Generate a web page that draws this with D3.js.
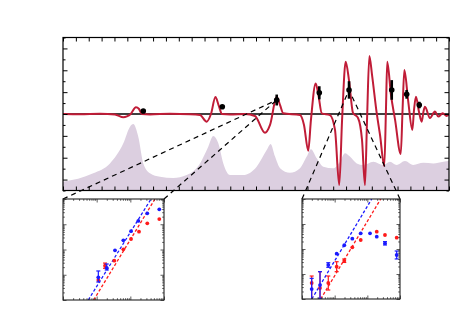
<!DOCTYPE html>
<html>
<head>
<meta charset="utf-8">
<script src="https://cdn.jsdelivr.net/npm/d3@7"></script>
<style>
body { margin: 0; background: #fff; }
svg { display: block; }
</style>
</head>
<body>
<svg id="chart" width="457" height="334"></svg>
<script>
// --- main panel data (x in arbitrary units 0..30, y in signal units) ---
const signalCurve = [
  [0,0],[1.32,-0.01],[2.88,0.01],[4.04,-0.02],[4.69,-0.15],[4.97,-0.11],[5.26,0],[5.67,0.31],[5.91,0.23],[6.12,0],
  [6.76,-0.02],[8.32,0.01],[9.87,-0.01],[10.65,-0.05],[11.17,-0.35],[11.5,0],[11.85,0.78],[12.09,0.41],[12.36,0],
  [12.98,-0.02],[14.15,0],[14.92,-0.09],[15.7,-0.86],[16.09,-0.5],[16.61,0.79],[16.87,0.41],[17.12,0.03],
  [18.42,-0.05],[18.73,-0.5],[19.06,-1.68],[19.27,-0.27],[19.64,1.4],[19.85,0.87],[20.11,0.03],
  [20.75,-0.05],[21.14,-0.73],[21.47,-3.25],[21.69,-0.27],[21.97,2.39],[22.23,1.53],[22.54,0.05],
  [22.93,-0.18],[23.24,-1.19],[23.47,-3.25],[23.63,-0.27],[23.81,2.65],[24.02,1.78],[24.38,0.05],
  [24.64,-0.96],[24.97,-2.38],[25.1,0.18],[25.2,2.39],[25.49,0.87],[25.81,-0.27],[26.25,-1.83],
  [26.39,0.18],[26.53,2.01],[26.82,0.64],[27.15,-0.73],[27.28,0.18],[27.43,0.79],[27.67,0.09],
  [27.88,-0.35],[28.01,0.09],[28.13,0.33],[28.52,-0.18],[28.91,0.11],[29.17,-0.12],[29.51,0.03],
  [29.82,-0.09],[30,0]
];

const bandEdge = [
  [0,-3.1],[2.35,-2.71],[3.65,-2.26],[4.69,-1.34],[5.21,-0.58],[5.46,-0.46],[5.85,-1.04],[6.24,-2.26],
  [6.76,-2.71],[7.54,-2.87],[8.57,-2.93],[9.61,-2.79],[10.65,-2.26],[11.29,-1.5],[11.68,-1.01],[12.07,-1.34],
  [12.46,-2.26],[12.98,-2.79],[14.01,-2.79],[15.05,-2.41],[15.83,-1.65],[16.14,-1.37],[16.48,-1.95],
  [16.87,-2.48],[17.64,-2.69],[18.42,-2.48],[18.94,-1.95],[19.27,-1.61],[19.72,-2.03],[20.23,-2.41],
  [21.01,-2.48],[21.53,-2.18],[21.92,-1.8],[22.3,-1.95],[22.83,-2.26],[23.34,-2.33],[24.12,-2.18],
  [24.89,-2.33],[25.41,-2.18],[25.93,-2.33],[26.58,-2.15],[27.22,-2.33],[28,-2.23],[28.78,-2.26],
  [29.56,-2.18],[30,-2.15]
];

// measured points: [x, y, error]
const measured = [
  [6.24,0.14,0.05],[12.38,0.33,0.05],[16.61,0.64,0.25],[19.92,0.97,0.3],
  [22.23,1.1,0.4],[25.55,1.1,0.45],[26.71,0.9,0.2],[27.69,0.41,0.15]
];

// --- inset data: [x, y, low, high] ---
const leftBlue = [
  [725,0.39],[319,0.27],[173,0.135],[105,0.053],[62,0.023],[35,0.0093],
  [19.9,0.00185,0.00154,0.00267],[11.2,0.00079,0.000516,0.00141]
];
const leftRed = [
  [725,0.161],[319,0.109],[181,0.0507],[105,0.026],[62,0.0102],[33.4,0.0036],
  [17.7,0.00228,0.0018,0.0029],[11.2,0.00062]
];
const leftBlueFit = [[5.64,1e-4],[411,1]];
const leftRedFit = [[8.17,1e-4],[540,1]];

const rightBlue = [
  [1.98,0.00025,0.00005,0.00067],[3.56,0.00036,0.000107,0.00124],[6.38,0.00229,0.00185,0.00283],
  [11.5,0.00649],[19.7,0.0141],[34.7,0.0258],[62.7,0.0425],[121,0.0425],[194,0.031],
  [347,0.0169,0.0145,0.0197],[792,0.00575,0.004,0.0083]
];
const rightRed = [
  [1.98,0.000437,0.00005,0.00083],[3.56,0.000275,0.00005,0.00124],[6.38,0.000437,0.000229,0.00083],
  [11.5,0.00196,0.00124,0.0031],[19.7,0.0034,0.0029,0.004],[34.7,0.0117],[62.7,0.0229],
  [194,0.0492],[347,0.0363],[792,0.0283]
];
const rightBlueFit = [[2,1e-4],[136,1]];
const rightRedFit = [[3.74,1e-4],[257,1]];

const svg = d3.select("#chart");

// main panel
const main = { left: 63, top: 37.5, width: 386, height: 153 };
const x = d3.scaleLinear().domain([0, 30]).range([main.left, main.left + main.width]);
const y = d3.scaleLinear().domain([-3.5, 3.5]).range([main.top + main.height, main.top]);

svg.append("clipPath").attr("id", "mainClip")
  .append("rect").attr("x", main.left).attr("y", main.top).attr("width", main.width).attr("height", main.height);

const g = svg.append("g").attr("clip-path", "url(#mainClip)");

g.append("path")
  .datum(bandEdge)
  .attr("fill", "#dccfe0")
  .attr("d", d3.area().x(d => x(d[0])).y0(y(-3.5)).y1(d => y(d[1])).curve(d3.curveMonotoneX));

g.append("line")
  .attr("x1", x(0)).attr("x2", x(30)).attr("y1", y(0)).attr("y2", y(0))
  .attr("stroke", "#000").attr("stroke-width", 1.3);

g.append("path")
  .datum(signalCurve)
  .attr("fill", "none")
  .attr("stroke", "#c01c37")
  .attr("stroke-width", 2)
  .attr("d", d3.line().x(d => x(d[0])).y(d => y(d[1])).curve(d3.curveMonotoneX));

// insets
const insets = [
  { left: 63, top: 199, width: 101, height: 101, blue: leftBlue, red: leftRed, blueFit: leftBlueFit, redFit: leftRedFit, target: measured[2], id: "inL" },
  { left: 302, top: 199, width: 98, height: 100, blue: rightBlue, red: rightRed, blueFit: rightBlueFit, redFit: rightRedFit, target: measured[4], id: "inR" }
];

// dashed connectors from inset corners to the measured point
insets.forEach(p => {
  [p.left, p.left + p.width].forEach(cx => {
    svg.append("line")
      .attr("x1", cx).attr("y1", p.top)
      .attr("x2", x(p.target[0])).attr("y2", y(p.target[1]))
      .attr("stroke", "#000").attr("stroke-width", 1.2)
      .attr("stroke-dasharray", "5,4");
  });
});

// measured points with error bars
const pts = svg.append("g");
pts.selectAll("line.err").data(measured).enter().append("line")
  .attr("x1", d => x(d[0])).attr("x2", d => x(d[0]))
  .attr("y1", d => y(d[1] - d[2])).attr("y2", d => y(d[1] + d[2]))
  .attr("stroke", "#000").attr("stroke-width", 2.6);
pts.selectAll("circle").data(measured).enter().append("circle")
  .attr("cx", d => x(d[0])).attr("cy", d => y(d[1])).attr("r", 2.8).attr("fill", "#000");

// main axes, ticks inward
const xt = d3.range(0, 31);
const yMajor = d3.range(-3, 4);
const yMinor = d3.range(-3.5, 3.6, 1);
function noDomain(sel) { sel.select(".domain").remove(); sel.selectAll("text").remove(); }
svg.append("g").attr("transform", `translate(0,${main.top + main.height})`)
  .call(d3.axisBottom(x).tickValues(xt).tickSize(-4).tickFormat("")).call(noDomain);
svg.append("g").attr("transform", `translate(0,${main.top})`)
  .call(d3.axisTop(x).tickValues(xt).tickSize(-4).tickFormat("")).call(noDomain);
svg.append("g").attr("transform", `translate(${main.left},0)`)
  .call(d3.axisLeft(y).tickValues(yMajor).tickSize(-4.5).tickFormat("")).call(noDomain);
svg.append("g").attr("transform", `translate(${main.left},0)`)
  .call(d3.axisLeft(y).tickValues(yMinor).tickSize(-2.5).tickFormat("")).call(noDomain);
svg.append("g").attr("transform", `translate(${main.left + main.width},0)`)
  .call(d3.axisRight(y).tickValues(yMajor).tickSize(-4.5).tickFormat("")).call(noDomain);
svg.append("g").attr("transform", `translate(${main.left + main.width},0)`)
  .call(d3.axisRight(y).tickValues(yMinor).tickSize(-2.5).tickFormat("")).call(noDomain);
svg.selectAll(".tick line").attr("stroke", "#000").attr("stroke-width", 1);

svg.append("rect")
  .attr("x", main.left).attr("y", main.top).attr("width", main.width).attr("height", main.height)
  .attr("fill", "none").attr("stroke", "#000").attr("stroke-width", 1.2);

// log-log insets
const xDecades = [1, 10, 100];
const yDecades = [1e-4, 1e-3, 1e-2, 1e-1];
function logMinor(decades) {
  const out = [];
  decades.forEach(d => { for (let k = 2; k <= 9; k++) out.push(d * k); });
  return out;
}

insets.forEach(p => {
  const lx = d3.scaleLog().domain([1, 1000]).range([p.left, p.left + p.width]);
  const ly = d3.scaleLog().domain([1e-4, 1]).range([p.top + p.height, p.top]);
  const gi = svg.append("g");

  gi.append("rect").attr("x", p.left).attr("y", p.top).attr("width", p.width).attr("height", p.height)
    .attr("fill", "#fff");

  svg.append("clipPath").attr("id", p.id)
    .append("rect").attr("x", p.left).attr("y", p.top).attr("width", p.width).attr("height", p.height);
  const gc = gi.append("g").attr("clip-path", `url(#${p.id})`);

  const fitLine = d3.line().x(d => lx(d[0])).y(d => ly(d[1]));
  [[p.blueFit, "#1a1aff"], [p.redFit, "#ff1a1a"]].forEach(([fit, col]) => {
    gc.append("path").datum(fit).attr("d", fitLine)
      .attr("stroke", col).attr("stroke-width", 1.3).attr("fill", "none").attr("stroke-dasharray", "3,2");
  });

  [[p.red, "#ff1a1a"], [p.blue, "#1a1aff"]].forEach(([ser, col]) => {
    const withErr = ser.filter(d => d.length > 2);
    gc.selectAll(null).data(withErr).enter().append("line")
      .attr("x1", d => lx(d[0])).attr("x2", d => lx(d[0]))
      .attr("y1", d => ly(d[2])).attr("y2", d => ly(d[3]))
      .attr("stroke", col).attr("stroke-width", 1.2);
    [2, 3].forEach(i => {
      gc.selectAll(null).data(withErr).enter().append("line")
        .attr("x1", d => lx(d[0]) - 2).attr("x2", d => lx(d[0]) + 2)
        .attr("y1", d => ly(d[i])).attr("y2", d => ly(d[i]))
        .attr("stroke", col).attr("stroke-width", 1.2);
    });
    gc.selectAll(null).data(ser).enter().append("circle")
      .attr("cx", d => lx(d[0])).attr("cy", d => ly(d[1])).attr("r", 1.9).attr("fill", col);
  });

  const xMaj = [1, 10, 100, 1000], xMin = logMinor(xDecades);
  const yMaj = [1e-4, 1e-3, 1e-2, 1e-1, 1], yMin = logMinor(yDecades);
  const ax = [
    [d3.axisBottom, lx, `translate(0,${p.top + p.height})`],
    [d3.axisTop, lx, `translate(0,${p.top})`],
    [d3.axisLeft, ly, `translate(${p.left},0)`],
    [d3.axisRight, ly, `translate(${p.left + p.width},0)`]
  ];
  ax.forEach(([fn, sc, tr], i) => {
    const maj = i < 2 ? xMaj : yMaj, mn = i < 2 ? xMin : yMin;
    gi.append("g").attr("transform", tr).call(fn(sc).tickValues(maj).tickSize(-3.5).tickFormat("")).call(noDomain);
    gi.append("g").attr("transform", tr).call(fn(sc).tickValues(mn).tickSize(-1.8).tickFormat("")).call(noDomain);
  });
  gi.selectAll(".tick line").attr("stroke", "#333").attr("stroke-width", 0.8);

  gi.append("rect").attr("x", p.left).attr("y", p.top).attr("width", p.width).attr("height", p.height)
    .attr("fill", "none").attr("stroke", "#222").attr("stroke-width", 1.1);
});
</script>
</body>
</html>
